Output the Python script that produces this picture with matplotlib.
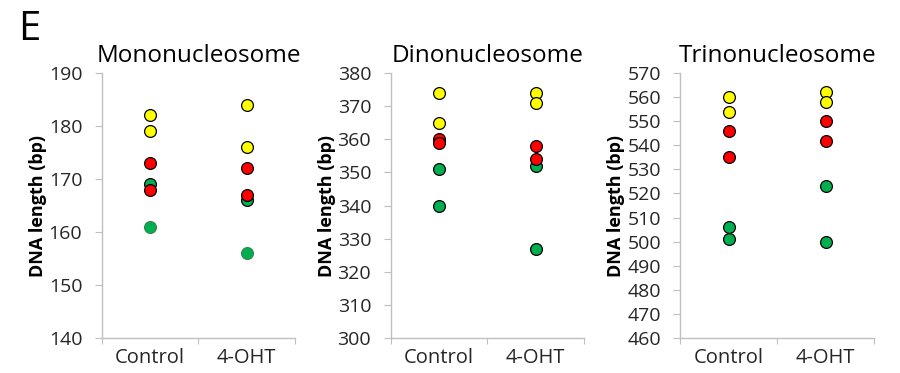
import matplotlib
matplotlib.use("Agg")
import matplotlib.pyplot as plt

plt.rcParams['font.family'] = ['Open Sans', 'DejaVu Sans']

groups = ['Control', '4-OHT']
titles = ['Mononucleosome', 'Dinonucleosome', 'Trinonucleosome']
ylims = [(140, 190), (300, 380), (460, 570)]
ysteps = [10, 10, 10]

# values per panel: [control, 4-OHT]
mono_green = [[169, 161], [166, 156]]
mono_red = [[173, 168], [172, 167]]
mono_yellow = [[182, 179], [184, 176]]

di_green = [[351, 340], [352, 327]]
di_red = [[360, 359], [358, 354]]
di_yellow = [[374, 365], [374, 371]]

tri_green = [[506, 501], [523, 500]]
tri_red = [[546, 535], [550, 542]]
tri_yellow = [[560, 554], [562, 558]]

panels = [
    (mono_green, mono_red, mono_yellow),
    (di_green, di_red, di_yellow),
    (tri_green, tri_red, tri_yellow),
]
colors = ['#00B050', '#FF0000', '#FFFF00']

fig = plt.figure(figsize=(9, 3.73), dpi=100)
lefts = [0.113, 0.434, 0.756]
width = 0.215
gray = '#bfbfbf'
txt = '#262626'

for i, (ax_left, data) in enumerate(zip(lefts, panels)):
    ax = fig.add_axes([ax_left, 0.094, width, 0.71])
    for series, col in zip(data, colors):
        for j, vals in enumerate(series):
            for k, v in enumerate(vals):
                edge = 'black'
                # lowest mononucleosome greens have no black outline
                if i == 0 and col == '#00B050' and k == 1:
                    edge = '#2e8b4f'
                ax.plot(j + 0.5, v, 'o', color=col, markersize=8.5,
                        markeredgecolor=edge, markeredgewidth=0.9, zorder=3)
    lo, hi = ylims[i]
    ax.set_ylim(lo, hi)
    ax.set_yticks(range(lo, hi + 1, ysteps[i]))
    ax.set_xlim(0, 2)
    ax.set_xticks([0, 1, 2])
    ax.set_xticklabels([])
    ax.set_xticks([0.5, 1.5], minor=True)
    ax.set_xticklabels(groups, minor=True, fontsize=14.5)
    ax.tick_params(axis='x', which='minor', length=0, pad=7, labelcolor=txt)
    ax.tick_params(axis='x', which='major', length=4, color=gray, direction='out')
    ax.tick_params(axis='y', length=5, color=gray, labelsize=14, pad=9, labelcolor=txt)
    for s in ['top', 'right']:
        ax.spines[s].set_visible(False)
    for s in ['left', 'bottom']:
        ax.spines[s].set_color(gray)
        ax.spines[s].set_linewidth(1)
    ax.set_ylabel('DNA length (bp)', fontsize=13, fontweight='bold')
    ax.yaxis.set_label_coords(-0.284, 0.5)
    ax.set_title(titles[i], fontsize=17.5, pad=8, color='black')

fig.text(0.02, 0.975, 'E', fontsize=29, va='top', ha='left')

fig.savefig('out.png', dpi=100)
